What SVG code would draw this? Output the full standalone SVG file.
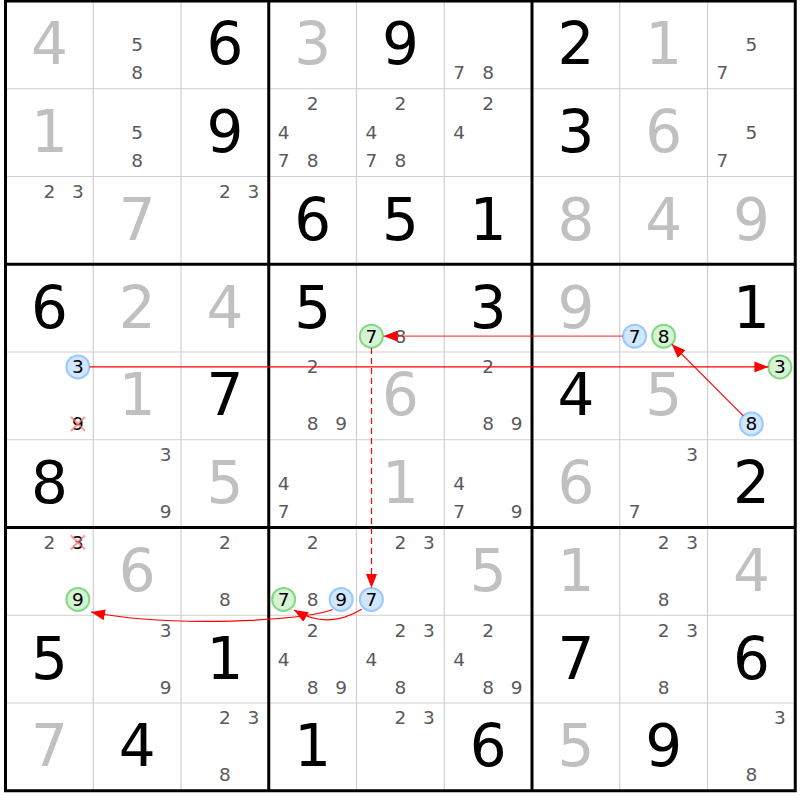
<svg xmlns="http://www.w3.org/2000/svg" width="800" height="800" viewBox="0 0 800 800">
<defs>
<style>
text{font-family:"DejaVu Sans","Liberation Sans",sans-serif;text-anchor:middle}
.g{font-size:58px;fill:#000}
.s{font-size:58px;fill:#c0c0c0}
.c{font-size:18.5px;fill:#5a5a5a}
.h{font-size:18.5px;fill:#000}
.cb{fill:#d1e6ff;stroke:#99c9ff;stroke-width:2}
.cg{fill:#d5f3d5;stroke:#85d985;stroke-width:2}
.x{stroke:#ff7070;stroke-width:2;opacity:0.75}
.thin{stroke:#d0d0d0;stroke-width:1.2}
.thick{stroke:#000;stroke-width:3}
.ln{fill:none;stroke:#ff0000;stroke-width:1.2;marker-end:url(#ah)}
</style>
<marker id="ah" markerUnits="userSpaceOnUse" viewBox="0 0 14 11" markerWidth="14" markerHeight="11" refX="14" refY="5.5" orient="auto">
<path d="M0,0 L14,5.5 L0,11 z" fill="#ff0000"/>
</marker>
</defs>
<rect width="800" height="800" fill="#fff"/>
<g id="grid">
<path class="thin" d="M93.25,1V790.75M181,1V790.75M356.5,1V790.75M444.25,1V790.75M619.75,1V790.75M707.5,1V790.75M5.5,88.75H795.25M5.5,176.5H795.25M5.5,352H795.25M5.5,439.75H795.25M5.5,615.25H795.25M5.5,703H795.25"/>
<path class="thick" d="M268.75,1V790.75M532,1V790.75M5.5,264.25H795.25M5.5,527.5H795.25"/>
<rect class="thick" x="5.5" y="1" width="789.75" height="789.75" fill="none"/>
</g>
<g id="r0c0" transform="translate(49.375,44.875)"><text class="s" y="19.6">4</text></g>
<g id="r0c1" transform="translate(137.125,44.875)"><text class="c" y="6.6">5</text><text class="c" y="34.6">8</text></g>
<g id="r0c2" transform="translate(224.875,44.875)"><text class="g" y="19.6">6</text></g>
<g id="r0c3" transform="translate(312.625,44.875)"><text class="s" y="19.6">3</text></g>
<g id="r0c4" transform="translate(400.375,44.875)"><text class="g" y="19.6">9</text></g>
<g id="r0c5" transform="translate(488.125,44.875)"><text class="c" x="-29" y="34.6">7</text><text class="c" y="34.6">8</text></g>
<g id="r0c6" transform="translate(575.875,44.875)"><text class="g" y="19.6">2</text></g>
<g id="r0c7" transform="translate(663.625,44.875)"><text class="s" y="19.6">1</text></g>
<g id="r0c8" transform="translate(751.375,44.875)"><text class="c" y="6.6">5</text><text class="c" x="-29" y="34.6">7</text></g>

<g id="r1c0" transform="translate(49.375,132.625)"><text class="s" y="19.6">1</text></g>
<g id="r1c1" transform="translate(137.125,132.625)"><text class="c" y="6.6">5</text><text class="c" y="34.6">8</text></g>
<g id="r1c2" transform="translate(224.875,132.625)"><text class="g" y="19.6">9</text></g>
<g id="r1c3" transform="translate(312.625,132.625)"><text class="c" y="-22.4">2</text><text class="c" x="-29" y="6.6">4</text><text class="c" x="-29" y="34.6">7</text><text class="c" y="34.6">8</text></g>
<g id="r1c4" transform="translate(400.375,132.625)"><text class="c" y="-22.4">2</text><text class="c" x="-29" y="6.6">4</text><text class="c" x="-29" y="34.6">7</text><text class="c" y="34.6">8</text></g>
<g id="r1c5" transform="translate(488.125,132.625)"><text class="c" y="-22.4">2</text><text class="c" x="-29" y="6.6">4</text></g>
<g id="r1c6" transform="translate(575.875,132.625)"><text class="g" y="19.6">3</text></g>
<g id="r1c7" transform="translate(663.625,132.625)"><text class="s" y="19.6">6</text></g>
<g id="r1c8" transform="translate(751.375,132.625)"><text class="c" y="6.6">5</text><text class="c" x="-29" y="34.6">7</text></g>

<g id="r2c0" transform="translate(49.375,220.375)"><text class="c" y="-22.4">2</text><text class="c" x="28.5" y="-22.4">3</text></g>
<g id="r2c1" transform="translate(137.125,220.375)"><text class="s" y="19.6">7</text></g>
<g id="r2c2" transform="translate(224.875,220.375)"><text class="c" y="-22.4">2</text><text class="c" x="28.5" y="-22.4">3</text></g>
<g id="r2c3" transform="translate(312.625,220.375)"><text class="g" y="19.6">6</text></g>
<g id="r2c4" transform="translate(400.375,220.375)"><text class="g" y="19.6">5</text></g>
<g id="r2c5" transform="translate(488.125,220.375)"><text class="g" y="19.6">1</text></g>
<g id="r2c6" transform="translate(575.875,220.375)"><text class="s" y="19.6">8</text></g>
<g id="r2c7" transform="translate(663.625,220.375)"><text class="s" y="19.6">4</text></g>
<g id="r2c8" transform="translate(751.375,220.375)"><text class="s" y="19.6">9</text></g>

<g id="r3c0" transform="translate(49.375,308.125)"><text class="g" y="19.6">6</text></g>
<g id="r3c1" transform="translate(137.125,308.125)"><text class="s" y="19.6">2</text></g>
<g id="r3c2" transform="translate(224.875,308.125)"><text class="s" y="19.6">4</text></g>
<g id="r3c3" transform="translate(312.625,308.125)"><text class="g" y="19.6">5</text></g>
<g id="r3c4" transform="translate(400.375,308.125)"><circle class="cg" cx="-29" cy="28" r="11.5"/><text class="h" x="-29" y="34.6">7</text><text class="c" y="34.6">8</text></g>
<g id="r3c5" transform="translate(488.125,308.125)"><text class="g" y="19.6">3</text></g>
<g id="r3c6" transform="translate(575.875,308.125)"><text class="s" y="19.6">9</text></g>
<g id="r3c7" transform="translate(663.625,308.125)"><circle class="cb" cx="-29" cy="28" r="11.5"/><text class="h" x="-29" y="34.6">7</text><circle class="cg" cx="0" cy="28" r="11.5"/><text class="h" y="34.6">8</text></g>
<g id="r3c8" transform="translate(751.375,308.125)"><text class="g" y="19.6">1</text></g>

<g id="r4c0" transform="translate(49.375,395.875)"><circle class="cb" cx="28.5" cy="-29" r="11.5"/><text class="h" x="28.5" y="-22.4">3</text><text class="h" x="28.5" y="34.6">9</text><path class="x" d="M21.5,21L35.5,35M35.5,21L21.5,35"/></g>
<g id="r4c1" transform="translate(137.125,395.875)"><text class="s" y="19.6">1</text></g>
<g id="r4c2" transform="translate(224.875,395.875)"><text class="g" y="19.6">7</text></g>
<g id="r4c3" transform="translate(312.625,395.875)"><text class="c" y="-22.4">2</text><text class="c" y="34.6">8</text><text class="c" x="28.5" y="34.6">9</text></g>
<g id="r4c4" transform="translate(400.375,395.875)"><text class="s" y="19.6">6</text></g>
<g id="r4c5" transform="translate(488.125,395.875)"><text class="c" y="-22.4">2</text><text class="c" y="34.6">8</text><text class="c" x="28.5" y="34.6">9</text></g>
<g id="r4c6" transform="translate(575.875,395.875)"><text class="g" y="19.6">4</text></g>
<g id="r4c7" transform="translate(663.625,395.875)"><text class="s" y="19.6">5</text></g>
<g id="r4c8" transform="translate(751.375,395.875)"><circle class="cg" cx="28.5" cy="-29" r="11.5"/><text class="h" x="28.5" y="-22.4">3</text><circle class="cb" cx="0" cy="28" r="11.5"/><text class="h" y="34.6">8</text></g>

<g id="r5c0" transform="translate(49.375,483.625)"><text class="g" y="19.6">8</text></g>
<g id="r5c1" transform="translate(137.125,483.625)"><text class="c" x="28.5" y="-22.4">3</text><text class="c" x="28.5" y="34.6">9</text></g>
<g id="r5c2" transform="translate(224.875,483.625)"><text class="s" y="19.6">5</text></g>
<g id="r5c3" transform="translate(312.625,483.625)"><text class="c" x="-29" y="6.6">4</text><text class="c" x="-29" y="34.6">7</text></g>
<g id="r5c4" transform="translate(400.375,483.625)"><text class="s" y="19.6">1</text></g>
<g id="r5c5" transform="translate(488.125,483.625)"><text class="c" x="-29" y="6.6">4</text><text class="c" x="-29" y="34.6">7</text><text class="c" x="28.5" y="34.6">9</text></g>
<g id="r5c6" transform="translate(575.875,483.625)"><text class="s" y="19.6">6</text></g>
<g id="r5c7" transform="translate(663.625,483.625)"><text class="c" x="28.5" y="-22.4">3</text><text class="c" x="-29" y="34.6">7</text></g>
<g id="r5c8" transform="translate(751.375,483.625)"><text class="g" y="19.6">2</text></g>

<g id="r6c0" transform="translate(49.375,571.375)"><text class="c" y="-22.4">2</text><text class="h" x="28.5" y="-22.4">3</text><path class="x" d="M21.5,-36L35.5,-22M35.5,-36L21.5,-22"/><circle class="cg" cx="28.5" cy="28" r="11.5"/><text class="h" x="28.5" y="34.6">9</text></g>
<g id="r6c1" transform="translate(137.125,571.375)"><text class="s" y="19.6">6</text></g>
<g id="r6c2" transform="translate(224.875,571.375)"><text class="c" y="-22.4">2</text><text class="c" y="34.6">8</text></g>
<g id="r6c3" transform="translate(312.625,571.375)"><text class="c" y="-22.4">2</text><circle class="cg" cx="-29" cy="28" r="11.5"/><text class="h" x="-29" y="34.6">7</text><text class="c" y="34.6">8</text><circle class="cb" cx="28.5" cy="28" r="11.5"/><text class="h" x="28.5" y="34.6">9</text></g>
<g id="r6c4" transform="translate(400.375,571.375)"><text class="c" y="-22.4">2</text><text class="c" x="28.5" y="-22.4">3</text><circle class="cb" cx="-29" cy="28" r="11.5"/><text class="h" x="-29" y="34.6">7</text></g>
<g id="r6c5" transform="translate(488.125,571.375)"><text class="s" y="19.6">5</text></g>
<g id="r6c6" transform="translate(575.875,571.375)"><text class="s" y="19.6">1</text></g>
<g id="r6c7" transform="translate(663.625,571.375)"><text class="c" y="-22.4">2</text><text class="c" x="28.5" y="-22.4">3</text><text class="c" y="34.6">8</text></g>
<g id="r6c8" transform="translate(751.375,571.375)"><text class="s" y="19.6">4</text></g>

<g id="r7c0" transform="translate(49.375,659.125)"><text class="g" y="19.6">5</text></g>
<g id="r7c1" transform="translate(137.125,659.125)"><text class="c" x="28.5" y="-22.4">3</text><text class="c" x="28.5" y="34.6">9</text></g>
<g id="r7c2" transform="translate(224.875,659.125)"><text class="g" y="19.6">1</text></g>
<g id="r7c3" transform="translate(312.625,659.125)"><text class="c" y="-22.4">2</text><text class="c" x="-29" y="6.6">4</text><text class="c" y="34.6">8</text><text class="c" x="28.5" y="34.6">9</text></g>
<g id="r7c4" transform="translate(400.375,659.125)"><text class="c" y="-22.4">2</text><text class="c" x="28.5" y="-22.4">3</text><text class="c" x="-29" y="6.6">4</text><text class="c" y="34.6">8</text></g>
<g id="r7c5" transform="translate(488.125,659.125)"><text class="c" y="-22.4">2</text><text class="c" x="-29" y="6.6">4</text><text class="c" y="34.6">8</text><text class="c" x="28.5" y="34.6">9</text></g>
<g id="r7c6" transform="translate(575.875,659.125)"><text class="g" y="19.6">7</text></g>
<g id="r7c7" transform="translate(663.625,659.125)"><text class="c" y="-22.4">2</text><text class="c" x="28.5" y="-22.4">3</text><text class="c" y="34.6">8</text></g>
<g id="r7c8" transform="translate(751.375,659.125)"><text class="g" y="19.6">6</text></g>

<g id="r8c0" transform="translate(49.375,746.875)"><text class="s" y="19.6">7</text></g>
<g id="r8c1" transform="translate(137.125,746.875)"><text class="g" y="19.6">4</text></g>
<g id="r8c2" transform="translate(224.875,746.875)"><text class="c" y="-22.4">2</text><text class="c" x="28.5" y="-22.4">3</text><text class="c" y="34.6">8</text></g>
<g id="r8c3" transform="translate(312.625,746.875)"><text class="g" y="19.6">1</text></g>
<g id="r8c4" transform="translate(400.375,746.875)"><text class="c" y="-22.4">2</text><text class="c" x="28.5" y="-22.4">3</text></g>
<g id="r8c5" transform="translate(488.125,746.875)"><text class="g" y="19.6">6</text></g>
<g id="r8c6" transform="translate(575.875,746.875)"><text class="s" y="19.6">5</text></g>
<g id="r8c7" transform="translate(663.625,746.875)"><text class="g" y="19.6">9</text></g>
<g id="r8c8" transform="translate(751.375,746.875)"><text class="c" x="28.5" y="-22.4">3</text><text class="c" y="34.6">8</text></g>

<g id="connectors">
<path class="ln" d="M623,336.1H383.5" stroke-opacity="0.7"/>
<path class="ln" d="M89.5,366.9H768.4"/>
<path class="ln" d="M743.3,415.8L671.8,344.2"/>
<path class="ln" d="M371.5,348V588" stroke-dasharray="6,4" stroke-width="1.5"/>
<path class="ln" d="M361.7,609.3Q328,630 294,610"/>
<path class="ln" d="M332.7,609.5C305,621 170,628 91,612"/>
</g>
</svg>
